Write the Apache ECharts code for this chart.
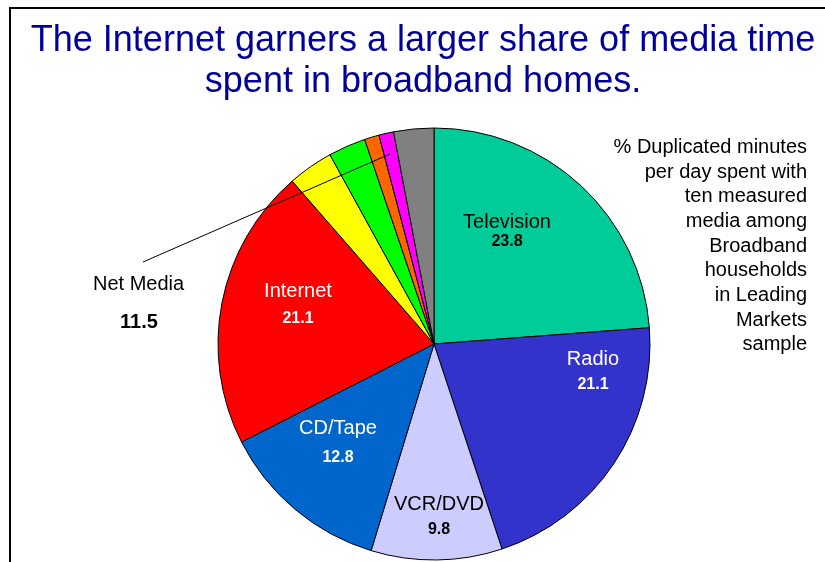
<!DOCTYPE html>
<html>
<head>
<meta charset="utf-8">
<script src="https://cdn.jsdelivr.net/npm/echarts@6/dist/echarts.min.js"></script>
<style>
  html, body { margin: 0; padding: 0; background: #fff; }
  #main { width: 825px; height: 562px; }
</style>
</head>
<body>
<div id="main"></div>
<script>
// media shares, clockwise from 12 o'clock
var mediaNames = ['Television', 'Radio', 'VCR/DVD', 'CD/Tape', 'Internet',
                  'Newspapers', 'Magazines', 'Books', 'Video Games', 'Other'];
var mediaValues = [23.8, 21.1, 9.8, 12.8, 21.1, 3.4, 2.8, 1.1, 1.1, 3.0];
var showLabel = [true, true, true, true, true, false, false, false, false, false];
var netMediaTotal = '11.5';
var noteLines = ['% Duplicated minutes', 'per day spent with', 'ten measured',
                 'media among', 'Broadband', 'households', 'in Leading', 'Markets', 'sample'];

var sliceColors = ['#00CC99', '#3333CC', '#CCCCFF', '#0066CC', '#FF0000',
                   '#FFFF00', '#00FF00', '#FF6600', '#FF00FF', '#808080'];
var labelColors = ['#000', '#fff', '#000', '#fff', '#fff'];
// label centre positions and line spacing (px)
var labelPos = [[507, 232], [593, 372], [439, 517], [338, 443], [298, 305]];
var labelGap = [19, 25, 25, 30, 27];

var font = "'Liberation Sans', Arial, sans-serif";

var pieData = mediaNames.map(function (n, i) {
  var item = {
    name: n,
    value: mediaValues[i],
    itemStyle: { color: sliceColors[i] },
    label: { show: showLabel[i] }
  };
  if (showLabel[i]) {
    item.label = {
      show: true,
      formatter: '{n|{b}}\n{v|{c}}',
      rich: {
        n: { fontSize: 20, fontFamily: font, color: labelColors[i], lineHeight: labelGap[i], align: 'center' },
        v: { fontSize: 16, fontWeight: 'bold', fontFamily: font, color: labelColors[i], lineHeight: labelGap[i], align: 'center' }
      }
    };
  }
  return item;
});

var chart = echarts.init(document.getElementById('main'));
chart.setOption({
  animation: false,
  backgroundColor: '#fff',
  title: {
    text: 'The Internet garners a larger share of media time\nspent in broadband homes.',
    left: 418,
    top: 16,
    textAlign: 'center',
    textStyle: { fontFamily: font, fontSize: 36, fontWeight: 'normal', color: '#000099', lineHeight: 41 }
  },
  graphic: [
    {
      type: 'rect', z: -1,
      shape: { x: 10, y: 8, width: 840, height: 600 },
      style: { fill: 'none', stroke: '#000', lineWidth: 2 }
    },
    {
      type: 'line', z: 100,
      shape: { x1: 143, y1: 262, x2: 390, y2: 154 },
      style: { stroke: '#000', lineWidth: 1 }
    },
    {
      type: 'text', left: 93, top: 274,
      style: { text: 'Net Media', font: '20px ' + font, fill: '#000' }
    },
    {
      type: 'text', left: 120, top: 312,
      style: { text: netMediaTotal, font: 'bold 20px ' + font, fill: '#000' }
    },
    {
      type: 'text', x: 807, y: 135,
      style: {
        text: noteLines.join('\n'), font: '20px ' + font, fill: '#000',
        align: 'right', lineHeight: 24.7
      }
    }
  ],
  series: [{
    type: 'pie',
    center: [434, 344],
    radius: 216,
    startAngle: 90,
    clockwise: true,
    avoidLabelOverlap: false,
    itemStyle: { borderColor: '#000', borderWidth: 1 },
    label: { position: 'inside' },
    labelLine: { show: false },
    emphasis: { disabled: true },
    labelLayout: function (p) {
      var pos = labelPos[p.dataIndex];
      if (!pos) return {};
      return { x: pos[0], y: pos[1], align: 'center', verticalAlign: 'middle' };
    },
    data: pieData
  }]
});
</script>
</body>
</html>
